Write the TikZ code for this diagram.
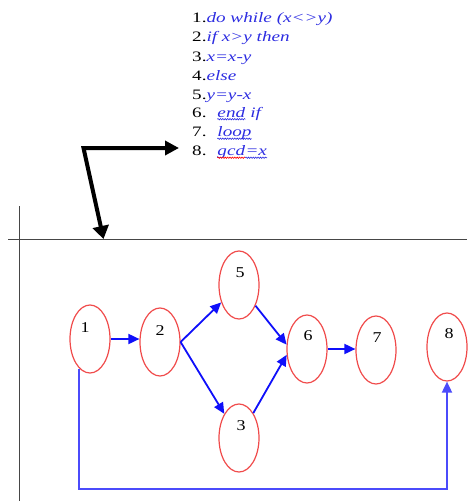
\documentclass[tikz,border=0pt]{standalone}
\usepackage{fontspec}
\setmainfont{Liberation Serif}
\usetikzlibrary{arrows.meta,shapes.geometric,decorations.pathmorphing}
\definecolor{codeblue}{RGB}{45,45,225}
\definecolor{ellred}{RGB}{240,75,75}
\definecolor{flowblue}{RGB}{15,15,250}
\definecolor{rulegray}{RGB}{70,70,70}
\newcommand{\codeline}[1]{\scalebox{1.33}[1]{#1}}
\newcommand{\cd}[1]{\textcolor{codeblue}{\itshape #1}}
\begin{document}
\begin{tikzpicture}[x=1pt,y=-1pt,
  st/.style={draw=ellred, line width=1.2pt, ellipse, minimum width=40pt, minimum height=68pt, inner sep=0pt},
  num/.style={font=\fontsize{15}{17}\selectfont, inner sep=0pt},
  codetxt/.style={anchor=base west, inner sep=0pt, font=\fontsize{14.4}{16}\selectfont},
  wav/.style={line width=0.6pt, decorate, decoration={snake, amplitude=0.7pt, segment length=2.4pt}},
  flow/.style={draw=flowblue, line width=1.8pt, -{Triangle[length=11pt,width=10pt]}},
  rulel/.style={draw=rulegray, line width=0.9pt},
  bigarrow/.style={draw=black, line width=4pt, miter limit=10, {Triangle[length=13pt,width=16pt]}-{Triangle[length=14pt,width=14pt]}}]
\useasboundingbox (0,0) rectangle (467,501);
% code text
\node[codetxt] (c1) at (192,22) {\codeline{1.\cd{do while (x<>y)}}};
\node[codetxt] (c2) at (192,41.5) {\codeline{2.\cd{if x>y then}}};
\node[codetxt] (c3) at (192,61) {\codeline{3.\cd{x=x-y}}};
\node[codetxt] (c4) at (192,80) {\codeline{4.\cd{else}}};
\node[codetxt] (c5) at (192,99) {\codeline{5.\cd{y=y-x}}};
\node[codetxt] (c6) at (192,117) {\codeline{6.\hspace{0.55em}}};
\node[codetxt] (w6) at (c6.base east) {\codeline{\cd{end}}};
\node[codetxt] (c6b) at (w6.base east) {\codeline{\hspace{0.25em}\cd{if}}};
\node[codetxt] (c7) at (192,136.5) {\codeline{7.\hspace{0.55em}}};
\node[codetxt] (w7) at (c7.base east) {\codeline{\cd{loop}}};
\node[codetxt] (c8) at (192,155.5) {\codeline{8.\hspace{0.55em}}};
\node[codetxt] (w8) at (c8.base east) {\codeline{\cd{gcd}}};
\node[codetxt] (w8b) at (w8.base east) {\codeline{\cd{=x}}};
\draw[wav, draw=codeblue] ([yshift=-2.2pt]w6.base west) -- ([yshift=-2.2pt]w6.base east);
\draw[wav, draw=codeblue] ([yshift=-2.2pt]w7.base west) -- ([yshift=-2.2pt]w7.base east);
\draw[wav, draw=red] ([yshift=-2.2pt]w8.base west) -- ([yshift=-2.2pt]w8.base east);
\draw[wav, draw=codeblue] ([yshift=-2.2pt]w8b.base west) -- ([yshift=-2.2pt]w8b.base east);
% rules
\coordinate (h1) at (8,239);
\coordinate (h2) at (467,239);
\coordinate (v1) at (19,206);
\coordinate (v2) at (19,501);
\draw[rulel] (h1) -- (h2);
\draw[rulel] (v1) -- (v2);
% big black arrow
\coordinate (bt) at (103.5,239);
\coordinate (bk) at (83.5,148);
\coordinate (br) at (179,148);
\draw[bigarrow] (bt) -- (bk) -- (br);
% ellipses
\node[st] (n1) at (90,339) {};
\node[st] (n2) at (160,342) {};
\node[st] (n5) at (239,285) {};
\node[st] (n3) at (239,438) {};
\node[st] (n6) at (307,349) {};
\node[st] (n7) at (376,350) {};
\node[st] (n8) at (447,347) {};
\node[num] (t1) at (85,328) {\scalebox{1.2}[1]{1}};
\node[num] (t2) at (160,331) {\scalebox{1.2}[1]{2}};
\node[num] (t5) at (240,273) {\scalebox{1.2}[1]{5}};
\node[num] (t3) at (241,426) {\scalebox{1.2}[1]{3}};
\node[num] (t6) at (308,336) {\scalebox{1.2}[1]{6}};
\node[num] (t7) at (377,338) {\scalebox{1.2}[1]{7}};
\node[num] (t8) at (449,334) {\scalebox{1.2}[1]{8}};
% connectors
\draw[flow] (n1.east) -- (n1.east -| n2.west);
\draw[flow] (n2.east) -- (n5);
\draw[flow] (n2.east) -- (n3);
\draw[flow] (n5) -- (n6.168);
\draw[flow] (n3) -- (n6.196);
\draw[flow] (n6.east) -- (n6.east -| n7.west);
\coordinate (bot) at (0,489);
\draw[flow, draw=flowblue!75!white] (n1.250) -- (n1.250 |- bot) -| (n8.south);
\end{tikzpicture}
\end{document}
